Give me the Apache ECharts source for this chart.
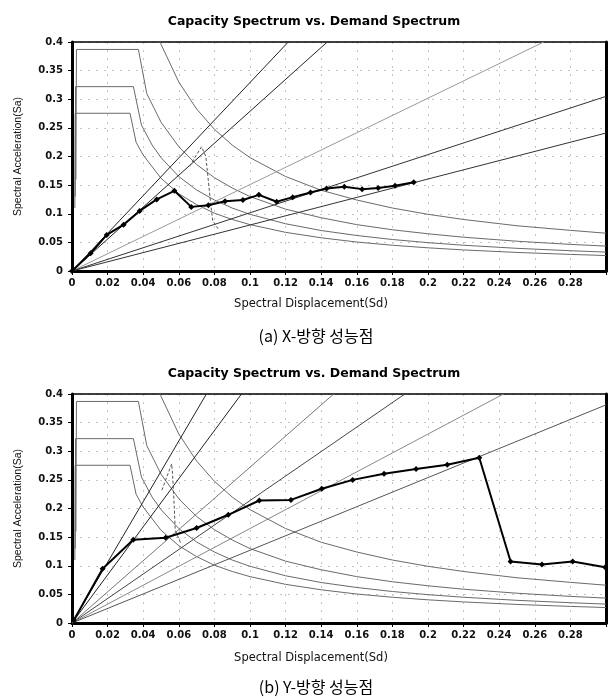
<!DOCTYPE html>
<html>
<head>
<meta charset="utf-8">
<script src="https://cdn.jsdelivr.net/npm/echarts@6/dist/echarts.min.js"></script>
<style>
html,body{margin:0;padding:0;background:#fff;}
#chart{width:613px;height:700px;}
</style>
</head>
<body>
<div id="chart"></div>
<script>
// capacity curve, X direction (Sd, Sa)
var capX_sd = [0, 0.0105, 0.0195, 0.029, 0.038, 0.0476, 0.0575, 0.067, 0.0766, 0.086, 0.096, 0.105, 0.115, 0.124, 0.134, 0.143, 0.153, 0.163, 0.172, 0.1815, 0.192];
var capX_sa = [0, 0.031, 0.063, 0.081, 0.105, 0.125, 0.14, 0.112, 0.115, 0.122, 0.124, 0.133, 0.121, 0.129, 0.137, 0.144, 0.147, 0.143, 0.145, 0.149, 0.155];

// capacity curve, Y direction
var capY_sd = [0.001, 0.0172, 0.0344, 0.0526, 0.070, 0.0878, 0.1052, 0.123, 0.1403, 0.1577, 0.1753, 0.1933, 0.2108, 0.2288, 0.2464, 0.264, 0.2813, 0.2995];
var capY_sa = [0.005, 0.0947, 0.1453, 0.1488, 0.166, 0.189, 0.214, 0.215, 0.2344, 0.25, 0.2606, 0.269, 0.2763, 0.2886, 0.1074, 0.102, 0.1074, 0.0975];

// demand spectra (same in both plots)
var demandE = [[0.044,0.45],[0.05,0.396],[0.06,0.33],[0.07,0.283],[0.08,0.2475],[0.09,0.22],[0.1,0.198],[0.12,0.165],[0.14,0.141],[0.16,0.124],[0.18,0.11],[0.2,0.099],[0.22,0.09],[0.25,0.079],[0.28,0.071],[0.3,0.066]];
var demandA = [[0.0022,0.16],[0.0025,0.387],[0.0373,0.387],[0.042,0.31],[0.05,0.26],[0.06,0.217],[0.07,0.186],[0.08,0.163],[0.09,0.145],[0.1,0.13],[0.12,0.108],[0.14,0.093],[0.16,0.081],[0.18,0.072],[0.2,0.065],[0.22,0.059],[0.25,0.052],[0.28,0.0465],[0.3,0.0435]];
var demandB = [[0.0018,0.13],[0.002,0.322],[0.0345,0.322],[0.039,0.255],[0.045,0.22],[0.05,0.198],[0.06,0.165],[0.07,0.1415],[0.08,0.124],[0.09,0.11],[0.1,0.099],[0.12,0.0825],[0.14,0.0707],[0.16,0.062],[0.18,0.055],[0.2,0.0495],[0.22,0.045],[0.25,0.0396],[0.28,0.0354],[0.3,0.033]];
var demandC = [[0.0016,0.11],[0.0018,0.2755],[0.0326,0.2755],[0.036,0.225],[0.04,0.2025],[0.05,0.162],[0.06,0.135],[0.07,0.116],[0.08,0.101],[0.09,0.09],[0.1,0.081],[0.12,0.0675],[0.14,0.058],[0.16,0.0506],[0.18,0.045],[0.2,0.0405],[0.22,0.0368],[0.25,0.0324],[0.28,0.029],[0.3,0.027]];

// small dashed single-demand pieces
var singleX = [[0.066,0.183],[0.0728,0.217],[0.0752,0.2],[0.0775,0.13],[0.079,0.088],[0.082,0.074]];
var singleY = [[0.0505,0.232],[0.056,0.278],[0.0565,0.26],[0.0575,0.2],[0.058,0.162],[0.061,0.14]];

// period lines from origin (end points)
var periodX = [[0.1215,0.4],[0.1434,0.4],[0.265,0.4],[0.3,0.305],[0.3,0.241]];
var periodY = [[0.0755,0.4],[0.0952,0.4],[0.147,0.4],[0.187,0.4],[0.2424,0.4],[0.3,0.381]];
var periodColorX = ['#222','#222','#999','#333','#333'];
var periodColorY = ['#222','#222','#777','#444','#888','#555'];

var titleText = 'Capacity Spectrum vs. Demand Spectrum';
var xName = 'Spectral Displacement(Sd)';
var yName = 'Spectral Acceleration(Sa)';
var captionA = '(a) X-방향 성능점';
var captionB = '(b) Y-방향 성능점';

var myChart = echarts.init(document.getElementById('chart'));

function zip(a, b){
    var out = [];
    for (var i = 0; i < a.length; i++) out.push([a[i], b[i]]);
    return out;
}

function xFmt(v){
    if (v > 0.29) return '';   // 0.3 is not labelled in the original
    return String(Math.round(v * 100) / 100);
}
function yFmt(v){
    return String(Math.round(v * 100) / 100);
}

var labelStyle = {fontFamily: 'DejaVu Sans', fontWeight: 'bold', fontSize: 10, color: '#111'};
var gridLine = {show: true, lineStyle: {color: '#c4c4c4', type: [2, 6], width: 1}};

function mainX(g){
    return {
        gridIndex: g, type: 'value', min: 0, max: 0.3, interval: 0.02, position: 'bottom',
        axisLine: {onZero: false, lineStyle: {color: '#000', width: 3}},
        axisTick: {show: true, length: 4, lineStyle: {color: '#000', width: 1}},
        axisLabel: Object.assign({margin: 7, formatter: xFmt}, labelStyle),
        splitLine: gridLine
    };
}
function topX(g){
    return {
        gridIndex: g, type: 'value', min: 0, max: 0.3, position: 'top',
        axisLine: {onZero: false, lineStyle: {color: '#000', width: 1.5}},
        axisTick: {show: false}, axisLabel: {show: false}, splitLine: {show: false}
    };
}
function mainY(g){
    return {
        gridIndex: g, type: 'value', min: 0, max: 0.4, interval: 0.05, position: 'left',
        name: yName, nameLocation: 'middle', nameGap: 48,
        nameTextStyle: {fontFamily: 'Liberation Sans', fontSize: 10.5, color: '#111'},
        axisLine: {onZero: false, lineStyle: {color: '#000', width: 3}},
        axisTick: {show: true, length: 4, lineStyle: {color: '#000', width: 1}},
        axisLabel: Object.assign({margin: 9, formatter: yFmt}, labelStyle),
        splitLine: gridLine
    };
}
function rightY(g){
    return {
        gridIndex: g, type: 'value', min: 0, max: 0.4, position: 'right',
        axisLine: {show: true, onZero: false, lineStyle: {color: '#000', width: 3}},
        axisTick: {show: false}, axisLabel: {show: false}, splitLine: {show: false}
    };
}

function plain(data, xi, yi, color, width, dash){
    return {
        type: 'line', data: data, xAxisIndex: xi, yAxisIndex: yi,
        showSymbol: false, symbol: 'none', silent: true,
        lineStyle: {color: color, width: width, type: dash || 'solid'},
        z: 2
    };
}

var series = [];
[0, 1].forEach(function(k){
    var xi = k * 2, yi = k * 2;
    [demandE, demandA, demandB, demandC].forEach(function(d){
        series.push(plain(d, xi, yi, '#6a6a6a', 1));
    });
    var ends = k === 0 ? periodX : periodY;
    var cols = k === 0 ? periodColorX : periodColorY;
    ends.forEach(function(p, i){
        series.push(plain([[0, 0], p], xi, yi, cols[i], 1));
    });
    series.push(plain(k === 0 ? singleX : singleY, xi, yi, '#555', 1, [3, 2]));
    series.push({
        type: 'line', xAxisIndex: xi, yAxisIndex: yi,
        data: k === 0 ? zip(capX_sd, capX_sa) : zip(capY_sd, capY_sa),
        symbol: 'diamond', symbolSize: 6, showSymbol: true,
        itemStyle: {color: '#000'},
        lineStyle: {color: '#000', width: 2},
        z: 5
    });
});

var option = {
    animation: false,
    backgroundColor: '#fff',
    title: [
        {text: titleText, left: 309, top: 10, textAlign: 'center',
         textStyle: {fontFamily: 'DejaVu Sans', fontWeight: 'bold', fontSize: 12.5, color: '#000'}},
        {text: xName, left: 306, top: 293, textAlign: 'center',
         textStyle: {fontFamily: 'DejaVu Sans', fontWeight: 'normal', fontSize: 11.5, color: '#111'}},
        {text: captionA, left: 311, top: 323, textAlign: 'center',
         textStyle: {fontFamily: 'Noto Sans CJK KR', fontWeight: 'normal', fontSize: 16, color: '#000'}},
        {text: titleText, left: 309, top: 362, textAlign: 'center',
         textStyle: {fontFamily: 'DejaVu Sans', fontWeight: 'bold', fontSize: 12.5, color: '#000'}},
        {text: xName, left: 306, top: 647, textAlign: 'center',
         textStyle: {fontFamily: 'DejaVu Sans', fontWeight: 'normal', fontSize: 11.5, color: '#111'}},
        {text: captionB, left: 311, top: 674, textAlign: 'center',
         textStyle: {fontFamily: 'Noto Sans CJK KR', fontWeight: 'normal', fontSize: 16, color: '#000'}}
    ],
    grid: [
        {left: 72, top: 42, width: 534, height: 229},
        {left: 72, top: 394, width: 534, height: 229}
    ],
    xAxis: [mainX(0), topX(0), mainX(1), topX(1)],
    yAxis: [mainY(0), rightY(0), mainY(1), rightY(1)],
    series: series
};
myChart.setOption(option);
</script>
</body>
</html>
